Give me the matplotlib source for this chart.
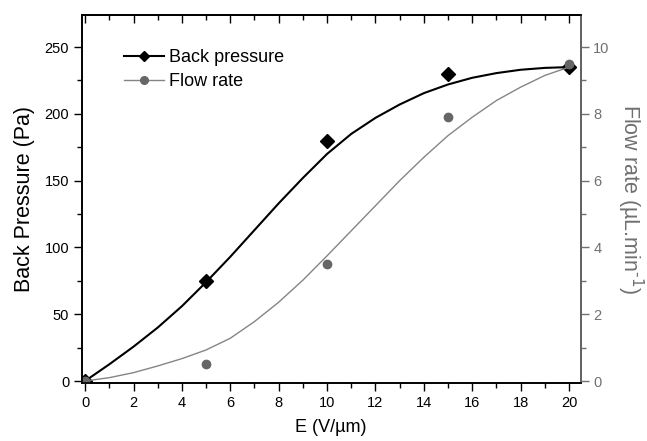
import matplotlib
matplotlib.use("Agg")
import matplotlib.pyplot as plt
from matplotlib.ticker import MultipleLocator

plt.rcParams['font.family'] = ['Liberation Sans', 'DejaVu Sans']
plt.rcParams['mathtext.default'] = 'regular'

# measured points
field = [0, 5, 10, 15, 20]
back_pressure = [0, 75, 180, 230, 235]
flow_rate = [0, 0.5, 3.5, 7.9, 9.5]

# fitted curves at each integer E
fit_field = list(range(21))
bp_fit = [0, 12.5, 25.7, 40, 56, 74, 93, 113, 133, 152, 170,
          185, 197, 207, 215.5, 222, 227, 230.5, 233, 234.4, 235]
fr_fit = [0, 0.1, 0.25, 0.45, 0.67, 0.93, 1.28, 1.78, 2.36, 3.02, 3.75,
          4.5, 5.25, 6.0, 6.7, 7.35, 7.9, 8.4, 8.8, 9.15, 9.4]

gray = '#707070'
gray_line = '#858585'
gray_mark = '#666666'

fig = plt.figure(figsize=(6.47, 4.41), dpi=100)
ax = fig.add_axes([0.1263, 0.1315, 0.7712, 0.8345])
ax2 = ax.twinx()

ax.plot(fit_field, bp_fit, color='black', lw=1.5)
ax.plot(field, back_pressure, 'D', color='black', ms=7.5, ls='none')
ax2.plot(fit_field, fr_fit, color=gray_line, lw=1.0)
ax2.plot(field, flow_rate, 'o', color=gray_mark, ms=6, ls='none')

# legend proxies
ax.plot([], [], color='black', lw=1.5, marker='D', ms=5.5, label='Back pressure')
ax.plot([], [], color=gray_line, lw=1.0, marker='o', mfc=gray_mark, mec=gray_mark,
        ms=5.5, label='Flow rate')
ax.legend(loc='upper left', bbox_to_anchor=(0.052, 0.952), frameon=False,
          fontsize=13, handlelength=2.2, handletextpad=0.3, labelspacing=0.4)

ax.set_xlim(-0.14, 20.48)
ax.set_ylim(-1.5, 274)
ax2.set_ylim(-0.06, 10.96)

ax.xaxis.set_major_locator(MultipleLocator(2))
ax.xaxis.set_minor_locator(MultipleLocator(1))
ax.yaxis.set_major_locator(MultipleLocator(50))
ax.yaxis.set_minor_locator(MultipleLocator(25))
ax2.yaxis.set_major_locator(MultipleLocator(2))
ax2.yaxis.set_minor_locator(MultipleLocator(1))

ax.tick_params(which='both', direction='out', labelsize=10.5)
ax.tick_params(which='major', length=5.5, width=1)
ax.tick_params(which='minor', length=3.5, width=1)
ax2.tick_params(axis='y', which='both', direction='out', colors=gray, labelsize=10.5)
ax2.tick_params(which='major', length=5.5, width=1)
ax2.tick_params(which='minor', length=3.5, width=1)

# top axis: inward ticks, no labels
top = ax.secondary_xaxis('top')
top.xaxis.set_major_locator(MultipleLocator(2))
top.xaxis.set_minor_locator(MultipleLocator(1))
top.tick_params(which='both', direction='in', labeltop=False, width=1)
top.tick_params(which='major', length=5.5)
top.tick_params(which='minor', length=3.5)
top.spines['top'].set_linewidth(1.2)

for s in ax.spines.values():
    s.set_linewidth(1.2)
for s in ax2.spines.values():
    s.set_linewidth(1.2)
ax2.spines['right'].set_color(gray)

ax.set_xlabel('E (V/µm)', fontsize=13, labelpad=7)
ax.set_ylabel('Back Pressure (Pa)', fontsize=15.5, labelpad=7)
ax2.set_ylabel('Flow rate (µL.min$^{\\text{-1}}$)', fontsize=15.5, color=gray,
               rotation=270, labelpad=26)

fig.savefig('out.png', dpi=100)
